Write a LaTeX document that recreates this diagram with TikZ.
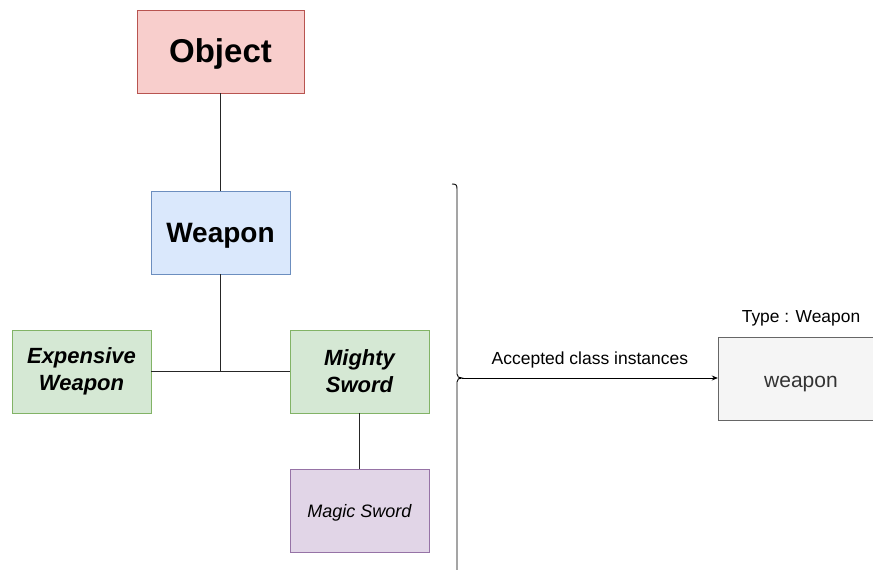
\documentclass[tikz,border=0pt]{standalone}
\usepackage{fontspec}
\setmainfont{Liberation Sans}
\usepackage{xcolor}
\usetikzlibrary{calc, positioning, arrows.meta}
\definecolor{objfill}{HTML}{F8CECC}
\definecolor{objline}{HTML}{B85450}
\definecolor{wpnfill}{HTML}{DAE8FC}
\definecolor{wpnline}{HTML}{6C8EBF}
\definecolor{subfill}{HTML}{D5E8D4}
\definecolor{subline}{HTML}{82B366}
\definecolor{magfill}{HTML}{E1D5E7}
\definecolor{magline}{HTML}{9673A6}
\definecolor{instfill}{HTML}{F5F5F5}
\definecolor{instline}{HTML}{666666}
\newcommand{\dropText}[2]{\raisebox{-#1}[\height][\depth]{#2}}

\begin{document}
\begin{tikzpicture}[x=1pt, y=-1pt,
    classbox/.style={draw, minimum width=139pt, minimum height=83pt, align=center, inner sep=0pt},
    link/.style={draw=black!85, line width=0.9pt}]
    \useasboundingbox (0,0) rectangle (873,570);

    % Class hierarchy
    \node[classbox, fill=objfill, draw=objline, minimum width=167pt, font=\fontsize{33}{36}\selectfont\bfseries] (object) at (220.5,51.5) {\dropText{2pt}{Object}};
    \node[classbox, fill=wpnfill, draw=wpnline, font=\fontsize{28}{32}\selectfont\bfseries] (weapon) at (220.5,232.5) {\dropText{3pt}{Weapon}};
    \node[classbox, fill=subfill, draw=subline, font=\fontsize{22}{27}\selectfont\bfseries\itshape] (expensive) at (81.5,371.5) {Expensive\\Weapon};
    \node[classbox, fill=subfill, draw=subline, font=\fontsize{22}{27}\selectfont\bfseries\itshape] (mighty) at (359.5,371.5) {Mighty\\Sword};
    \node[classbox, fill=magfill, draw=magline, font=\fontsize{18}{22}\selectfont\itshape] (magic) at (359.5,510.5) {\dropText{2pt}{Magic Sword}};

    \coordinate (joint) at (weapon.south |- mighty.west);
    \draw[link] (object) -- (weapon);
    \draw[link] (weapon) -- (joint);
    \draw[link] (expensive.east) -- (mighty.west);
    \draw[link] (mighty) -- (magic);

    % Brace
    \coordinate (tip) at (462,378);
    \draw[line width=0.9pt] (452,184) .. controls (456,184) and (457,185) .. (457,189)
        -- (457,374) .. controls (457,377) and (459,378) .. (tip)
        .. controls (459,378) and (457,379) .. (457,382) -- (457,571);

    % Accepted instance
    \node[classbox, fill=instfill, draw=instline, minimum width=166pt, text=black!80, font=\fontsize{21}{25}\selectfont] (inst) at (801,378.5) {\dropText{6pt}{weapon}};
    \node[font=\fontsize{17.4}{20}\selectfont, above=7pt of inst] (type) {Type : Weapon};

    \draw[-{Stealth[length=6pt, width=5pt]}, line width=0.9pt] (tip) -- (tip -| inst.west)
        node[midway, above=6pt, font=\fontsize{17.5}{20}\selectfont] (accepted) {Accepted class instances};
\end{tikzpicture}
\end{document}
